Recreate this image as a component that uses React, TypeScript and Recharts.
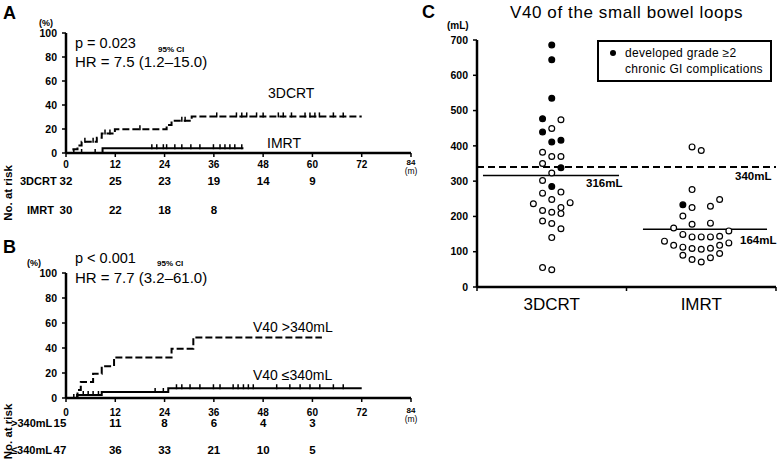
import React from 'react';
import { ComposedChart, ScatterChart, Line, Scatter, XAxis, YAxis, ReferenceLine } from 'recharts';

const FONT = '"Liberation Sans", Arial, Helvetica, sans-serif';

// ---------- shared KM axes ----------
const monthTicks = [0, 12, 24, 36, 48, 60, 72, 84];
const pctTicks = [0, 20, 40, 60, 80, 100];
const timeUnit = '(m)';

// ---------- Panel A ----------
const a3dTimes = [0, 1.8, 2.8, 3.8, 7.5, 8.7, 11.9, 24.5, 25.7, 30.6, 72];
const a3dValues = [0, 3.1, 6.3, 9.4, 12.8, 16.2, 19.7, 23.3, 26.9, 30.5, 30.5];
const a3dCensor = [4.6, 6.6, 9.5, 10.7, 18, 28.2, 29, 36.7, 41.5, 42.8, 44, 46.4, 48, 51.7, 52.9, 54.9, 58.2, 59.4, 60.6, 61.7, 65.1, 67.5];
const aImrtTimes = [0, 8.9, 43.2];
const aImrtValues = [0, 4, 4];
const aImrtCensor = [1.9, 3.8, 7.1, 20.9, 22.1, 23.7, 24.5, 26.5, 28.2, 30.4, 32.6, 35.9, 37.5, 38.7, 39.9, 41.1, 42.8];
const aRisk3d = [32, 25, 23, 19, 14, 9];
const aRiskImrt = [30, 22, 18, 8];

// ---------- Panel B ----------
const bHighTimes = [0, 2.8, 3.6, 6.6, 8.7, 11.7, 25.7, 31.0, 62.3];
const bHighValues = [0, 6.4, 12.8, 19.5, 25.5, 32.5, 39.5, 48.5, 48.5];
const bHighCensor: number[] = [];
const bLowTimes = [0, 2.7, 8.7, 24.9, 72];
const bLowValues = [0, 2.4, 4.8, 7.8, 7.8];
const bLowCensor = [1.9, 4.2, 5.4, 6.6, 7.9, 21.7, 23.7, 26.9, 28.2, 30.2, 32.6, 35.9, 37.5, 40.7, 41.9, 43.2, 44.4, 45.6, 51.3, 54.5, 57, 59.4, 61.8, 65.1, 67.5];
const bRiskHigh = [15, 11, 8, 6, 4, 3];
const bRiskLow = [47, 36, 33, 21, 10, 5];

// ---------- Panel C ----------
const cGroups = ['3DCRT', 'IMRT'];
const c3dValues = [686, 644, 535, 477, 474, 449, 439, 411, 416, 382, 370, 370, 350, 338, 323, 302, 285, 266, 269, 248, 236, 239, 225, 217, 212, 208, 187, 180, 165, 140, 55, 49];
const c3dSlots = [0, 0, 0, -1, 1, 0, -1, 0, 1, -1, 0, 1, -1, 1, 0, -1, 0, -1, 1, 0, -2, 2, 1, -1, 0, 1, -1, 0, 1, 0, -1, 0];
const c3dFilled = [1, 1, 1, 1, 0, 0, 1, 1, 1, 0, 0, 0, 0, 1, 0, 0, 1, 0, 0, 0, 0, 0, 0, 0, 0, 0, 0, 0, 0, 0, 0, 0];
const cImrtValues = [397, 387, 276, 233, 225, 229, 248, 201, 178, 181, 167, 159, 149, 142, 142, 142, 144, 130, 125, 118, 113, 118, 109, 107, 110, 90, 78, 71, 83, 95];
const cImrtSlots = [-1, 0, -1, -2, -1, 1, 2, -2, -1, 1, -3, 3, -2, -1, 0, 1, 2, -4, 3, -3, -2, 2, -1, 0, 1, -2, -1, 0, 1, 2];
const cImrtFilled = [0, 0, 0, 1, 0, 0, 0, 0, 0, 0, 0, 0, 0, 0, 0, 0, 0, 0, 0, 0, 0, 0, 0, 0, 0, 0, 0, 0, 0, 0];
const cMedians = [316, 164];
const cThreshold = 340;
const cTicks = [0, 100, 200, 300, 400, 500, 600, 700];

// ---------- helpers ----------
type Curve = { name: string; times: number[]; values: number[]; censor: number[]; dashed: boolean };

const levelAt = (c: Curve, t: number) => {
  let v = 0;
  c.times.forEach((tt, i) => {
    if (tt <= t) v = c.values[i];
  });
  return v;
};

const CensorTick = (p: any) => (
  <line x1={p.cx} x2={p.cx} y1={p.cy - 4} y2={p.cy + 1} stroke="#000" strokeWidth={1.5} />
);

const makeMonthTick = (rows: number[][], o: { tick: number; row: number[]; first: number }) => (p: any) => {
  const t = p.payload.value as number;
  const ax = p.x;
  const ay = p.y - 6;
  if (t === 84) {
    return (
      <g>
        <text x={ax} y={ay + o.tick - 3} textAnchor="middle" fontSize={8} fontWeight="bold" fontFamily={FONT} fill="#000">
          {t}
        </text>
        <text x={ax} y={ay + o.tick + 5.5} textAnchor="middle" fontSize={8.5} fontFamily={FONT} fill="#000">
          {timeUnit}
        </text>
      </g>
    );
  }
  const i = t / 12;
  return (
    <g>
      <text x={ax} y={ay + o.tick} textAnchor="middle" fontSize={10} fontWeight="bold" fontFamily={FONT} fill="#000">
        {t}
      </text>
      {rows.map((r, k) =>
        i < r.length ? (
          <text key={k} x={ax + (i === 0 ? o.first : 0)} y={ay + o.row[k]} textAnchor="middle" fontSize={11.5} fontWeight="bold" fontFamily={FONT} fill="#000">
            {r[i]}
          </text>
        ) : null
      )}
    </g>
  );
};

function KMChart(props: { curves: Curve[]; rows: number[][]; plotTop: number; plotHeight: number; bottom: number; off: { tick: number; row: number[]; first: number } }) {
  const { curves, rows, plotTop, plotHeight, bottom, off } = props;
  const xAxisH = 20;
  const height = plotTop + plotHeight + xAxisH + bottom;
  return (
    <ComposedChart width={430} height={height} margin={{ top: plotTop, right: 19, left: 10, bottom }}>
      <XAxis
        type="number"
        dataKey="t"
        domain={[0, 84]}
        ticks={monthTicks}
        interval={0}
        height={xAxisH}
        tickSize={4}
        tickMargin={2}
        axisLine={{ stroke: '#000', strokeWidth: 2.5 }}
        tickLine={{ stroke: '#000', strokeWidth: 1.5 }}
        tick={makeMonthTick(rows, off)}
      />
      <YAxis
        type="number"
        dataKey="v"
        domain={[0, 100]}
        ticks={pctTicks}
        interval={0}
        width={56}
        tickSize={4}
        tickMargin={5}
        axisLine={{ stroke: '#000', strokeWidth: 2.5 }}
        tickLine={{ stroke: '#000', strokeWidth: 1.5 }}
        tick={{ fontSize: 10.5, fontWeight: 'bold', fill: '#000', fontFamily: FONT }}
      />
      {curves.map((c) => (
        <Line
          key={c.name}
          name={c.name}
          data={c.times.map((t, i) => ({ t, v: c.values[i] }))}
          dataKey="v"
          type="stepAfter"
          stroke="#000"
          strokeWidth={2}
          strokeDasharray={c.dashed ? '7 3' : undefined}
          dot={false}
          activeDot={false}
          isAnimationActive={false}
        />
      ))}
      {curves.map((c) => (
        <Scatter
          key={c.name + '-censor'}
          name={c.name + ' censored'}
          data={c.censor.map((t) => ({ t, v: levelAt(c, t) }))}
          dataKey="v"
          shape={CensorTick}
          isAnimationActive={false}
        />
      ))}
    </ComposedChart>
  );
}

const Dot = (p: any) => {
  const filled = p.payload ? p.payload.filled : p.filled;
  return <circle cx={p.cx} cy={p.cy} r={2.9} fill={filled ? '#000' : '#fff'} stroke="#000" strokeWidth={1.2} />;
};

const CatTick = (p: any) => {
  const v = p.payload.value as number;
  if (Number.isInteger(v)) {
    return <line x1={p.x} x2={p.x} y1={p.y} y2={p.y + 4} stroke="#000" strokeWidth={1.5} />;
  }
  return (
    <text x={p.x} y={p.y + 23} textAnchor="middle" fontSize={17} fontFamily={FONT} fill="#000">
      {cGroups[Math.floor(v)]}
    </text>
  );
};

const endLabel = (text: string, dx: number, dy: number) => (p: any) => {
  const vb = p.viewBox || { x: 0, y: 0, width: 0 };
  return (
    <text x={vb.x + vb.width + dx} y={vb.y + dy} fontSize={11.5} fontWeight="bold" fontFamily={FONT} fill="#000">
      {text}
    </text>
  );
};

const SLOT = 0.0615;
const buildPts = (vals: number[], slots: number[], filled: number[], g: number) =>
  vals.map((v, i) => ({ x: g + 0.5 + slots[i] * SLOT, y: v, filled: filled[i] }));

export default function App() {
  const curvesA: Curve[] = [
    { name: '3DCRT', times: a3dTimes, values: a3dValues, censor: a3dCensor, dashed: true },
    { name: 'IMRT', times: aImrtTimes, values: aImrtValues, censor: aImrtCensor, dashed: false },
  ];
  const curvesB: Curve[] = [
    { name: 'V40 >340mL', times: bHighTimes, values: bHighValues, censor: bHighCensor, dashed: true },
    { name: 'V40 ≤340mL', times: bLowTimes, values: bLowValues, censor: bLowCensor, dashed: false },
  ];
  const pts3d = buildPts(c3dValues, c3dSlots, c3dFilled, 0);
  const ptsImrt = buildPts(cImrtValues, cImrtSlots, cImrtFilled, 1);

  const txt = { fontFamily: FONT, fill: '#000' } as const;

  return (
    <div style={{ position: 'absolute', left: 0, top: 0, width: 778, height: 466, overflow: 'hidden', background: '#fff', fontFamily: FONT }}>
      <div style={{ position: 'absolute', left: 0, top: 0 }}>
        <KMChart curves={curvesA} rows={[aRisk3d, aRiskImrt]} plotTop={33} plotHeight={120} bottom={60} off={{ tick: 15.3, row: [32, 61], first: 0 }} />
      </div>
      <div style={{ position: 'absolute', left: 0, top: 240 }}>
        <KMChart curves={curvesB} rows={[bRiskHigh, bRiskLow]} plotTop={33} plotHeight={125} bottom={45} off={{ tick: 18, row: [29, 56], first: -6 }} />
      </div>
      <div style={{ position: 'absolute', left: 400, top: 0 }}>
        <ScatterChart width={378} height={330} margin={{ top: 40, right: 2, left: 0, bottom: 13 }}>
          <XAxis
            type="number"
            dataKey="x"
            domain={[0, 2]}
            ticks={[0, 0.5, 1, 1.5, 2]}
            interval={0}
            height={30}
            tickSize={0}
            tickMargin={0}
            tickLine={false}
            axisLine={{ stroke: '#000', strokeWidth: 2.5 }}
            tick={CatTick}
          />
          <YAxis
            type="number"
            dataKey="y"
            domain={[0, 700]}
            ticks={cTicks}
            interval={0}
            width={77}
            tickSize={4}
            tickMargin={5}
            axisLine={{ stroke: '#000', strokeWidth: 2.5 }}
            tickLine={{ stroke: '#000', strokeWidth: 1.5 }}
            tick={{ fontSize: 10.5, fontWeight: 'bold', fill: '#000', fontFamily: FONT }}
          />
          <ReferenceLine y={cThreshold} stroke="#000" strokeWidth={2} strokeDasharray="7 4" label={endLabel(`${cThreshold}mL`, -41, 12.7)} />
          <ReferenceLine
            segment={[{ x: 0.04, y: cMedians[0] }, { x: 0.95, y: cMedians[0] }]}
            stroke="#000"
            strokeWidth={1.5}
            label={endLabel(`${cMedians[0]}mL`, -33, 12)}
          />
          <ReferenceLine
            segment={[{ x: 1.11, y: cMedians[1] }, { x: 1.94, y: cMedians[1] }]}
            stroke="#000"
            strokeWidth={1.5}
            label={endLabel(`${cMedians[1]}mL`, -27, 14.5)}
          />
          <Scatter name={cGroups[0]} data={pts3d} shape={Dot} isAnimationActive={false} />
          <Scatter name={cGroups[1]} data={ptsImrt} shape={Dot} isAnimationActive={false} />
        </ScatterChart>
      </div>

      <svg width={778} height={466} style={{ position: 'absolute', left: 0, top: 0, pointerEvents: 'none' }}>
        {/* Panel A annotations */}
        <text x={3} y={18.5} fontSize={18} fontWeight="bold" {...txt}>A</text>
        <text x={39} y={26} fontSize={9} fontWeight="bold" {...txt}>(%)</text>
        <text x={75} y={48.3} fontSize={14.5} {...txt}>p = 0.023</text>
        <text x={158} y={51.5} fontSize={8} fontWeight="bold" {...txt}>95% CI</text>
        <text x={75} y={67} fontSize={15} {...txt}>HR = 7.5 (1.2–15.0)</text>
        <text x={268} y={98} fontSize={14} {...txt}>3DCRT</text>
        <text x={267} y={148} fontSize={14} {...txt}>IMRT</text>
        <text x={11.7} y={193} transform="rotate(-90 11.7 193)" textAnchor="middle" fontSize={11.5} fontWeight="bold" {...txt}>No. at risk</text>
        <text x={20} y={185} fontSize={11} fontWeight="bold" {...txt}>3DCRT</text>
        <text x={27} y={213.5} fontSize={11} fontWeight="bold" {...txt}>IMRT</text>

        {/* Panel B annotations */}
        <text x={3} y={253} fontSize={18} fontWeight="bold" {...txt}>B</text>
        <text x={27} y={265.5} fontSize={9} fontWeight="bold" {...txt}>(%)</text>
        <text x={75} y={262.7} fontSize={14.5} {...txt}>p &lt; 0.001</text>
        <text x={157} y={266} fontSize={8} fontWeight="bold" {...txt}>95% CI</text>
        <text x={75} y={283.3} fontSize={15} {...txt}>HR = 7.7 (3.2–61.0)</text>
        <text x={253} y={331.5} fontSize={14} {...txt}>V40 &gt;340mL</text>
        <text x={253} y={380} fontSize={14} {...txt}>V40 ≤340mL</text>
        <text x={11.7} y={431.5} transform="rotate(-90 11.7 431.5)" textAnchor="middle" fontSize={11.5} fontWeight="bold" {...txt}>No. at risk</text>
        <text x={11} y={427} fontSize={11} fontWeight="bold" {...txt}>&gt;340mL</text>
        <text x={11} y={454} fontSize={11} fontWeight="bold" {...txt}>≤340mL</text>

        {/* Panel C annotations */}
        <text x={422} y={18.3} fontSize={18} fontWeight="bold" {...txt}>C</text>
        <text x={510} y={18} fontSize={17} letterSpacing={0.6} {...txt}>V40 of the small bowel loops</text>
        <text x={447} y={29} fontSize={10} fontWeight="bold" {...txt}>(mL)</text>
        <rect x={598} y={41} width={173} height={40} fill="#fff" stroke="#000" strokeWidth={2} />
        <circle cx={613} cy={53} r={3} fill="#000" />
        <text x={625} y={57} fontSize={12} letterSpacing={0.3} {...txt}>developed grade ≥2</text>
        <text x={625} y={73.3} fontSize={12} letterSpacing={0.3} {...txt}>chronic GI complications</text>
      </svg>
    </div>
  );
}
